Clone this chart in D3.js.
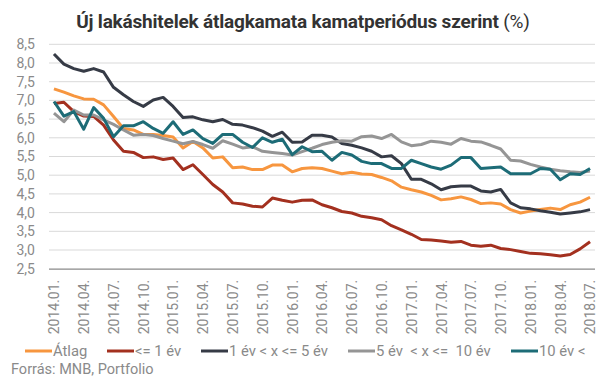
<!DOCTYPE html>
<html><head><meta charset="utf-8">
<script src="https://cdn.jsdelivr.net/npm/d3@7"></script>
<style>
html,body{margin:0;padding:0;background:#fff;}
svg{display:block;font-family:Roboto,"Noto Sans",sans-serif;}
</style></head>
<body><svg id="c" width="605" height="378"></svg>
<script>
const months = ["2014.01.","2014.02.","2014.03.","2014.04.","2014.05.","2014.06.","2014.07.","2014.08.","2014.09.","2014.10.","2014.11.","2014.12.",
"2015.01.","2015.02.","2015.03.","2015.04.","2015.05.","2015.06.","2015.07.","2015.08.","2015.09.","2015.10.","2015.11.","2015.12.",
"2016.01.","2016.02.","2016.03.","2016.04.","2016.05.","2016.06.","2016.07.","2016.08.","2016.09.","2016.10.","2016.11.","2016.12.",
"2017.01.","2017.02.","2017.03.","2017.04.","2017.05.","2017.06.","2017.07.","2017.08.","2017.09.","2017.10.","2017.11.","2017.12.",
"2018.01.","2018.02.","2018.03.","2018.04.","2018.05.","2018.06.","2018.07."];
const tickLabels = ["2014.01.","2014.04.","2014.07.","2014.10.","2015.01.","2015.04.","2015.07.","2015.10.","2016.01.","2016.04.","2016.07.","2016.10.","2017.01.","2017.04.","2017.07.","2017.10.","2018.01.","2018.04.","2018.07."];
const yTicks = [2.5,3.0,3.5,4.0,4.5,5.0,5.5,6.0,6.5,7.0,7.5,8.0,8.5];

const atlag = [7.31,7.22,7.12,7.04,7.03,6.88,6.57,6.25,6.21,6.09,6.09,6.06,6.02,5.73,5.90,5.73,5.46,5.49,5.20,5.22,5.15,5.15,5.27,5.27,5.09,5.18,5.20,5.18,
5.11,5.04,5.08,5.03,5.02,4.94,4.85,4.68,4.61,4.55,4.46,4.34,4.37,4.42,4.35,4.24,4.26,4.23,4.08,3.99,4.04,4.08,4.12,4.08,4.21,4.28,4.41];
const upTo1 = [6.92,6.95,6.70,6.58,6.57,6.34,5.94,5.64,5.61,5.47,5.49,5.42,5.46,5.15,5.28,5.02,4.75,4.55,4.26,4.23,4.17,4.15,4.39,4.33,4.28,4.33,4.34,4.21,
4.13,4.03,3.99,3.90,3.86,3.81,3.65,3.54,3.42,3.28,3.27,3.24,3.21,3.23,3.13,3.10,3.13,3.04,3.01,2.96,2.91,2.90,2.87,2.84,2.88,3.03,3.22];
const y1to5 = [8.24,7.97,7.85,7.78,7.85,7.76,7.35,7.15,6.97,6.84,7.01,7.08,6.84,6.54,6.56,6.48,6.43,6.49,6.36,6.34,6.27,6.18,6.04,6.15,5.88,5.89,6.07,6.07,
6.02,5.85,5.80,5.73,5.64,5.49,5.52,5.31,4.89,4.89,4.77,4.61,4.69,4.71,4.71,4.58,4.55,4.62,4.26,4.13,4.10,4.05,4.01,3.96,3.99,4.02,4.08];
const y5to10 = [6.66,6.43,6.74,6.61,6.61,6.48,6.36,6.21,6.07,6.09,6.06,5.98,5.91,5.84,5.90,5.82,5.72,5.92,5.83,5.73,5.76,5.64,5.61,5.58,5.54,5.63,5.72,5.82,
5.88,5.92,5.91,6.03,6.05,5.98,6.09,5.89,5.79,5.82,5.91,5.88,5.83,5.98,5.91,5.89,5.80,5.70,5.40,5.38,5.29,5.22,5.16,5.12,5.09,5.07,5.11];
const over10 = [6.97,6.58,6.70,6.23,6.81,6.52,6.03,6.32,6.32,6.43,6.25,6.12,6.43,6.09,6.21,5.98,5.85,6.09,6.09,5.88,5.74,6.00,5.88,5.96,5.55,5.76,5.63,5.64,
5.40,5.61,5.54,5.37,5.31,5.31,5.18,5.18,5.40,5.31,5.22,5.16,5.27,5.47,5.47,5.18,5.20,5.22,5.04,5.04,5.04,5.18,5.16,4.88,5.04,5.02,5.18];

const seriesNames = ["Átlag","<= 1 év","1 év < x <= 5 év","5 év  < x <=  10 év","10 év <"];
const seriesValues = [atlag, upTo1, y1to5, y5to10, over10];
const seriesColors = ["#f7963f","#a3301f","#363b46","#959595","#1d6c77"];

const svg = d3.select("#c");
const x = d3.scalePoint().domain(months).range([49,595]).padding(0.5);
const y = d3.scaleLinear().domain([2.5,8.5]).range([268.7,44.3]);

// title
const t = svg.append("text").attr("x",303).attr("y",28).attr("text-anchor","middle")
  .attr("fill","#333").style("font-size","19px").style("letter-spacing","-0.2px");
t.append("tspan").attr("font-weight","bold").text("Új lakáshitelek átlagkamata kamatperiódus szerint");
t.append("tspan").attr("font-weight","normal").text(" (%)");

// grid
svg.append("g").selectAll("line").data(yTicks.filter(d=>d>2.5)).join("line")
  .attr("x1",49).attr("x2",595).attr("y1",d=>y(d)).attr("y2",d=>y(d))
  .attr("stroke","#d9d9d9").attr("stroke-width",1);

// y axis
const yAxis = svg.append("g").attr("transform","translate(35,0)")
  .call(d3.axisLeft(y).tickValues(yTicks).tickSize(0).tickPadding(0).tickFormat(d=>d3.format(".1f")(d).replace(".",",")));
yAxis.select(".domain").remove();
yAxis.selectAll("text").attr("fill","#8a8a8a").style("font-size","14px").style("font-family","Roboto");

// x axis
const xAxis = svg.append("g").attr("transform",`translate(0,${y(2.5)})`)
  .call(d3.axisBottom(x).tickValues(tickLabels).tickSize(0));
xAxis.select(".domain").attr("stroke","#8a8a8a").attr("stroke-width",1.3).attr("d","M49,0.5H595");
xAxis.selectAll("text").attr("fill","#8a8a8a").style("font-size","14px").style("font-family","Roboto")
  .attr("transform","rotate(-90)").attr("text-anchor","end").attr("x",-11).attr("y",0).attr("dy","0.35em");

// lines
const line = d3.line().x((d,i)=>x(months[i])).y(d=>y(d));
svg.append("g").selectAll("path").data(seriesValues).join("path")
  .attr("d",d=>line(d)).attr("fill","none")
  .attr("stroke",(d,i)=>seriesColors[i]).attr("stroke-width",3).attr("stroke-linejoin","round");

// legend
const legX = [25,107,201,348,511];
const lg = svg.append("g").attr("transform","translate(0,351)");
seriesNames.forEach((n,i)=>{
  lg.append("line").attr("x1",legX[i]).attr("x2",legX[i]+27).attr("y1",0).attr("y2",0)
    .attr("stroke",seriesColors[i]).attr("stroke-width",3);
  lg.append("text").attr("x",legX[i]+28).attr("y",0).attr("dy","0.35em")
    .attr("fill","#8a8a8a").style("font-size","14.8px").style("white-space","pre").text(n);
});

svg.append("text").attr("x",11).attr("y",374).attr("fill","#8a8a8a").style("font-size","14.5px").text("Forrás: MNB, Portfolio");
</script></body></html>
